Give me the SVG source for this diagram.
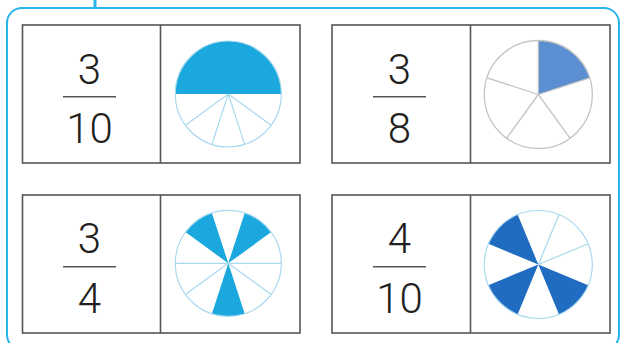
<svg xmlns="http://www.w3.org/2000/svg" width="621" height="343" viewBox="0 0 621 343">
<style>
.frame{fill:none;stroke:#29b4ea;stroke-width:2}
.box{fill:#fff;stroke:#555;stroke-width:1.6}
.bar{stroke:#555;stroke-width:1.6}
.num{font-family:Roboto,"Liberation Sans",sans-serif;font-weight:300;font-size:42px;fill:#231f20;text-anchor:middle}
.cy{fill:#1ba8df}
.dk{fill:#1f6cc0}
.st{fill:#5b8fd2}
.lb{fill:none;stroke:#a9d9ef;stroke-width:1.2}
.gr{fill:none;stroke:#c4c4c4;stroke-width:1.3}
</style>
<rect width="621" height="343" fill="#fff"/>
<g id="frame">
<rect class="frame" x="7" y="8" width="612" height="342" rx="15"/>
<line x1="95" y1="0" x2="95" y2="8" stroke="#29b4ea" stroke-width="3"/>
</g>
<g id="card1">
<rect class="box" x="22.5" y="25" width="277.5" height="138"/>
<line class="bar" x1="160.5" y1="25" x2="160.5" y2="163"/>
<text class="num" x="89.5" y="83.5">3</text>
<line class="bar" x1="63" y1="96.7" x2="116" y2="96.7"/>
<text class="num" x="89.5" y="142.7">10</text>
<path class="cy" d="M175.3 94 A53 53 0 0 1 281.3 94 Z"/>
<circle class="lb" cx="228.3" cy="94" r="53"/>
<path class="lb" d="M228.3 94 L271.2 125.2 M228.3 94 L244.7 144.4 M228.3 94 L211.9 144.4 M228.3 94 L185.4 125.2"/>
</g>
<g id="card2">
<rect class="box" x="332" y="25" width="278" height="138"/>
<line class="bar" x1="470.5" y1="25" x2="470.5" y2="163"/>
<text class="num" x="399.5" y="83.5">3</text>
<line class="bar" x1="373" y1="96.7" x2="426" y2="96.7"/>
<text class="num" x="399.5" y="142.7">8</text>
<path class="st" d="M538.3 94.5 L538.3 40.5 A54 54 0 0 1 589.7 77.8 Z"/>
<circle class="gr" cx="538.3" cy="94.5" r="54"/>
<path class="gr" d="M538.3 94.5 L538.3 40.5 M538.3 94.5 L589.7 77.8 M538.3 94.5 L570 138.2 M538.3 94.5 L506.6 138.2 M538.3 94.5 L486.9 77.8"/>
</g>
<g id="card3">
<rect class="box" x="22.5" y="195" width="277.5" height="138"/>
<line class="bar" x1="160.5" y1="195" x2="160.5" y2="333"/>
<text class="num" x="89.5" y="253.3">3</text>
<line class="bar" x1="63" y1="266.7" x2="116" y2="266.7"/>
<text class="num" x="89.5" y="312.7">4</text>
<path class="cy" d="M228.3 263.3 L271.2 232.1 A53 53 0 0 0 244.7 212.9 Z M228.3 263.3 L211.9 212.9 A53 53 0 0 0 185.4 232.1 Z M228.3 263.3 L211.9 313.7 A53 53 0 0 0 244.7 313.7 Z"/>
<circle class="lb" cx="228.3" cy="263.3" r="53"/>
<path class="lb" d="M175.3 263.3 L281.3 263.3 M228.3 263.3 L185.4 294.5 M228.3 263.3 L271.2 294.5"/>
</g>
<g id="card4">
<rect class="box" x="332" y="195" width="278" height="138"/>
<line class="bar" x1="470.5" y1="195" x2="470.5" y2="333"/>
<text class="num" x="399.5" y="253.3">4</text>
<line class="bar" x1="373" y1="266.7" x2="426" y2="266.7"/>
<text class="num" x="399.5" y="312.7">10</text>
<path class="dk" d="M538.3 264.5 L517.6 214.6 A54 54 0 0 0 488.4 243.8 Z M538.3 264.5 L488.4 285.2 A54 54 0 0 0 517.6 314.4 Z M538.3 264.5 L559 314.4 A54 54 0 0 0 588.2 285.2 Z"/>
<circle class="lb" cx="538.3" cy="264.5" r="54"/>
<path class="lb" d="M538.3 264.5 L588.2 243.8 M538.3 264.5 L559 214.6"/>
</g>
</svg>
